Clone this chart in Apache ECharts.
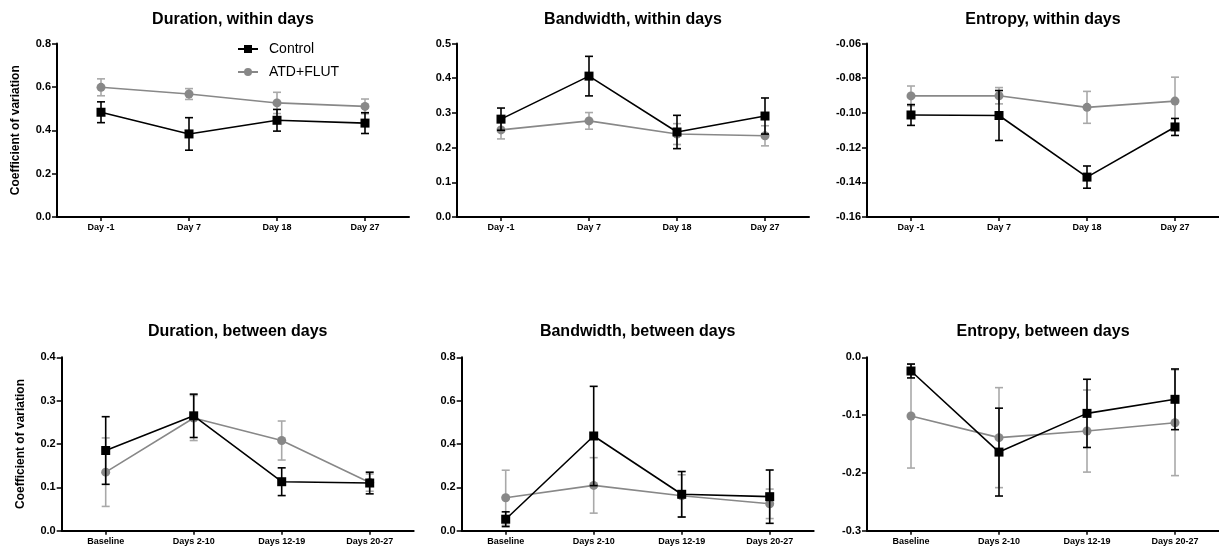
<!DOCTYPE html>
<html>
<head>
<meta charset="utf-8">
<title>Coefficient of variation – Control vs ATD+FLUT</title>
<script src="https://cdn.jsdelivr.net/npm/echarts@6/dist/echarts.min.js"></script>
<style>
  html, body { margin: 0; padding: 0; background: #ffffff; }
  #chart { width: 1219px; height: 552px; }
</style>
</head>
<body>
<div id="chart"></div>
<script>
// ---- categories ----
const withinDays = ['Day -1', 'Day 7', 'Day 18', 'Day 27'];
const betweenDays = ['Baseline', 'Days 2-10', 'Days 12-19', 'Days 20-27'];

// ---- Duration, within days ----
const durWithinCtrl = [0.483, 0.383, 0.446, 0.433];
const durWithinCtrlErr = [0.048, 0.075, 0.050, 0.048];
const durWithinAtd = [0.598, 0.567, 0.526, 0.510];
const durWithinAtdErr = [0.039, 0.025, 0.049, 0.034];

// ---- Bandwidth, within days ----
const bwWithinCtrl = [0.282, 0.406, 0.245, 0.291];
const bwWithinCtrlErr = [0.032, 0.057, 0.048, 0.052];
const bwWithinAtd = [0.251, 0.277, 0.239, 0.234];
const bwWithinAtdErr = [0.026, 0.024, 0.030, 0.029];

// ---- Entropy, within days ----
const entWithinCtrl = [-0.1012, -0.1015, -0.1370, -0.1081];
const entWithinCtrlErr = [0.0060, 0.0144, 0.0064, 0.0049];
const entWithinAtd = [-0.0902, -0.0901, -0.0968, -0.0932];
const entWithinAtdErr = [0.0057, 0.0047, 0.0092, 0.0138];

// ---- Duration, between days ----
const durBetweenCtrl = [0.185, 0.265, 0.113, 0.110];
const durBetweenCtrlErr = [0.078, 0.050, 0.032, 0.025];
const durBetweenAtd = [0.135, 0.260, 0.208, 0.111];
const durBetweenAtdErr = [0.079, 0.052, 0.045, 0.020];

// ---- Bandwidth, between days ----
const bwBetweenCtrl = [0.053, 0.437, 0.168, 0.157];
const bwBetweenCtrlErr = [0.034, 0.229, 0.105, 0.123];
const bwBetweenAtd = [0.152, 0.209, 0.161, 0.124];
const bwBetweenAtdErr = [0.127, 0.128, 0.097, 0.068];

// ---- Entropy, between days ----
const entBetweenCtrl = [-0.0237, -0.1640, -0.0970, -0.0727];
const entBetweenCtrlErr = [0.0120, 0.0760, 0.0590, 0.0525];
const entBetweenAtd = [-0.1016, -0.1390, -0.1276, -0.1132];
const entBetweenAtdErr = [0.0900, 0.0865, 0.0710, 0.0915];

// ---- y-axis scales (min, max, interval, decimals) ----
const yScales = [
  [0, 0.8, 0.2, 1],
  [0, 0.5, 0.1, 1],
  [-0.16, -0.06, 0.02, 2],
  [0, 0.4, 0.1, 1],
  [0, 0.8, 0.2, 1],
  [-0.3, 0.0, 0.1, 1]
];

const titles = [
  'Duration, within days', 'Bandwidth, within days', 'Entropy, within days',
  'Duration, between days', 'Bandwidth, between days', 'Entropy, between days'
];

const panels = [
  { cats: withinDays, ctrl: durWithinCtrl, ctrlErr: durWithinCtrlErr, atd: durWithinAtd, atdErr: durWithinAtdErr },
  { cats: withinDays, ctrl: bwWithinCtrl, ctrlErr: bwWithinCtrlErr, atd: bwWithinAtd, atdErr: bwWithinAtdErr },
  { cats: withinDays, ctrl: entWithinCtrl, ctrlErr: entWithinCtrlErr, atd: entWithinAtd, atdErr: entWithinAtdErr },
  { cats: betweenDays, ctrl: durBetweenCtrl, ctrlErr: durBetweenCtrlErr, atd: durBetweenAtd, atdErr: durBetweenAtdErr },
  { cats: betweenDays, ctrl: bwBetweenCtrl, ctrlErr: bwBetweenCtrlErr, atd: bwBetweenAtd, atdErr: bwBetweenAtdErr },
  { cats: betweenDays, ctrl: entBetweenCtrl, ctrlErr: entBetweenCtrlErr, atd: entBetweenAtd, atdErr: entBetweenAtdErr }
];

// ---- layout of the 2 x 3 panel grid ----
const FONT = '"Liberation Sans", Arial, Helvetica, sans-serif';
const gridBoxes = [
  { left: 57, top: 43.5, width: 352, height: 173.5 },
  { left: 457, top: 43.5, width: 352, height: 173.5 },
  { left: 867, top: 43.5, width: 352, height: 173.5 },
  { left: 61.7, top: 357.3, width: 352, height: 173.4 },
  { left: 461.7, top: 357.3, width: 352, height: 173.4 },
  { left: 867, top: 357.3, width: 352, height: 173.4 }
];

const CTRL_COLOR = '#000000';
const ATD_COLOR = '#888888';
const ATD_ERR_COLOR = '#a9a9a9';

// Mean ± SEM whiskers with end caps, drawn through the axis scales
function errorBarSeries(name, idx, means, errs, color, z) {
  return {
    type: 'custom',
    name: name,
    xAxisIndex: idx,
    yAxisIndex: idx,
    z: z,
    silent: true,
    itemStyle: { color: color },
    encode: { x: 0, y: [1, 2] },
    data: means.map((m, i) => [i, m - errs[i], m + errs[i]]),
    renderItem: function (params, api) {
      const x = api.value(0);
      const lo = api.coord([x, api.value(1)]);
      const hi = api.coord([x, api.value(2)]);
      const cap = 4;
      const style = { stroke: color, lineWidth: 1.6 };
      return {
        type: 'group',
        children: [
          { type: 'line', shape: { x1: hi[0], y1: hi[1], x2: lo[0], y2: lo[1] }, style: style },
          { type: 'line', shape: { x1: hi[0] - cap, y1: hi[1], x2: hi[0] + cap, y2: hi[1] }, style: style },
          { type: 'line', shape: { x1: lo[0] - cap, y1: lo[1], x2: lo[0] + cap, y2: lo[1] }, style: style }
        ]
      };
    }
  };
}

const grid = [], xAxis = [], yAxis = [], title = [], series = [];

panels.forEach((p, idx) => {
  const g = gridBoxes[idx];
  grid.push(Object.assign({ containLabel: false, outerBoundsMode: 'none' }, g));

  title.push({
    text: titles[idx],
    left: g.left + g.width / 2,
    top: idx < 3 ? 12 : 324,
    padding: 0,
    textAlign: 'center',
    textStyle: { fontFamily: FONT, fontWeight: 'bold', fontSize: 16, color: '#000' }
  });

  xAxis.push({
    type: 'category',
    gridIndex: idx,
    data: p.cats,
    boundaryGap: true,
    axisLine: { onZero: false, lineStyle: { color: '#000', width: 2 } },
    axisTick: { show: true, alignWithLabel: true, length: 4, lineStyle: { color: '#000', width: 1.5 } },
    axisLabel: { fontFamily: FONT, fontWeight: 'bold', fontSize: 9, color: '#000', margin: 6 },
    splitLine: { show: false }
  });

  const s = yScales[idx];
  yAxis.push({
    type: 'value',
    gridIndex: idx,
    min: s[0],
    max: s[1],
    interval: s[2],
    name: (idx === 0 || idx === 3) ? 'Coefficient of variation' : '',
    nameLocation: 'middle',
    nameGap: 35,
    nameTextStyle: { fontFamily: FONT, fontWeight: 'bold', fontSize: 12, color: '#000' },
    axisLine: { show: true, onZero: false, lineStyle: { color: '#000', width: 2 } },
    axisTick: { show: true, length: 5, lineStyle: { color: '#000', width: 1.5 } },
    axisLabel: {
      fontFamily: FONT, fontWeight: 'bold', fontSize: 11, color: '#000', margin: 6,
      formatter: (v) => v.toFixed(s[3])
    },
    splitLine: { show: false }
  });

  series.push(errorBarSeries('ATD+FLUT SEM', idx, p.atd, p.atdErr, ATD_ERR_COLOR, 1));
  series.push({
    type: 'line',
    name: 'ATD+FLUT',
    xAxisIndex: idx,
    yAxisIndex: idx,
    z: 2,
    data: p.atd,
    symbol: 'circle',
    symbolSize: 9,
    color: ATD_COLOR,
    lineStyle: { color: ATD_COLOR, width: 1.6 },
    itemStyle: { color: ATD_COLOR },
    emphasis: { disabled: true },
    animation: false
  });
  series.push(errorBarSeries('Control SEM', idx, p.ctrl, p.ctrlErr, CTRL_COLOR, 3));
  series.push({
    type: 'line',
    name: 'Control',
    xAxisIndex: idx,
    yAxisIndex: idx,
    z: 4,
    data: p.ctrl,
    symbol: 'rect',
    symbolSize: 9,
    color: CTRL_COLOR,
    lineStyle: { color: CTRL_COLOR, width: 1.6 },
    itemStyle: { color: CTRL_COLOR },
    emphasis: { disabled: true },
    animation: false
  });
});

const chart = echarts.init(document.getElementById('chart'), null, { renderer: 'canvas' });
chart.setOption({
  backgroundColor: '#ffffff',
  animation: false,
  title: title,
  legend: {
    data: ['Control', 'ATD+FLUT'],
    orient: 'vertical',
    left: 232,
    top: 37,
    itemWidth: 20,
    itemHeight: 10,
    itemGap: 9,
    textStyle: { fontFamily: FONT, fontSize: 14, color: '#000', padding: [0, 0, 0, 6] }
  },
  grid: grid,
  xAxis: xAxis,
  yAxis: yAxis,
  series: series
});
</script>
</body>
</html>
